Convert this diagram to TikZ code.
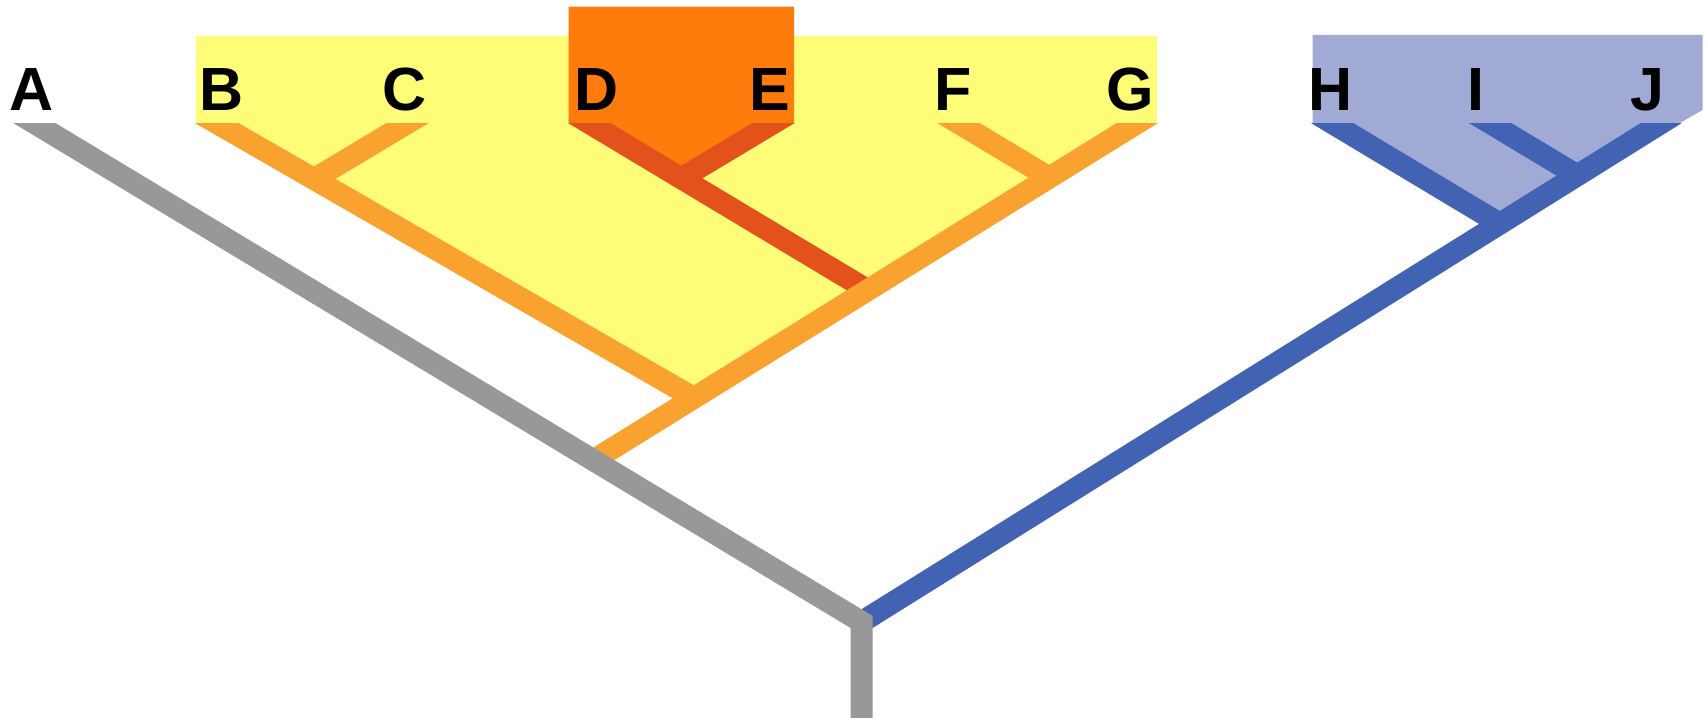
\documentclass[tikz,border=0pt]{standalone}
\usepackage{fontspec}
\setmainfont{Liberation Sans}
\usetikzlibrary{calc}
\definecolor{cgray}{RGB}{152,152,152}
\definecolor{corange}{RGB}{250,162,48}
\definecolor{cyellow}{RGB}{255,252,120}
\definecolor{cbox}{RGB}{255,123,12}
\definecolor{cdark}{RGB}{228,82,28}
\definecolor{cblue}{RGB}{66,98,180}
\definecolor{clblue}{RGB}{160,170,212}
\begin{document}
\begin{tikzpicture}[x=1pt,y=-1pt,
  br/.style={line width=20pt, line cap=butt, line join=miter},
  lab/.style={font=\fontsize{56}{62}\selectfont\bfseries, anchor=base, inner sep=0pt}]
\useasboundingbox (0,0) rectangle (1568,662);
% tips
\coordinate (tA) at (31.6,113);
\coordinate (tB) at (199,113);
\coordinate (tC) at (374,113);
\coordinate (tD) at (541,113);
\coordinate (tE) at (710,113);
\coordinate (tF) at (880,113);
\coordinate (tG) at (1044,113);
\coordinate (tH) at (1223,113);
\coordinate (tI) at (1368,113);
\coordinate (tJ) at (1525,113);
% root
\coordinate (R) at (791,571);
\coordinate (S) at (791,659);
% direction helpers
\coordinate (gG) at (544,423);
\coordinate (bB) at (699,401);
\coordinate (cC) at (274,173);
\coordinate (dD) at (641,173);
\coordinate (eE) at (610,173);
\coordinate (fF) at (980,173);
\coordinate (hH) at (1323,173);
\coordinate (iI) at (1468,173);
% junctions
\coordinate (O1) at (intersection of tA--R and tG--gG);
\coordinate (BG) at (intersection of tB--bB and tG--gG);
\coordinate (BC) at (intersection of tC--cC and tB--bB);
\coordinate (DJ) at (intersection of tD--dD and tG--gG);
\coordinate (DE) at (intersection of tE--eE and tD--dD);
\coordinate (FG) at (intersection of tF--fF and tG--gG);
\coordinate (HJ) at (intersection of tH--hH and R--tJ);
\coordinate (IJ) at (intersection of tI--iI and R--tJ);
% fills
\fill[cyellow] (180,33) -- (1062,33) -- (1062,113) -- (BG) -- (180,113) -- cycle;
\fill[cbox] (522,6) -- (729,6) -- (729,113) -- (DE) -- (522,113) -- cycle;
\fill[clblue] (1205,32) -- (1563,32) -- (1563,101) -- (1542,113) -- (HJ) -- (1205,113) -- cycle;
% branches
\begin{scope}
\clip (0,113) rectangle (1568,662);
\draw[br, cdark] ($(tD)!-30pt!(DJ)$) -- (DJ);
\draw[br, cdark] ($(tE)!-30pt!(DE)$) -- (DE);
\draw[br, corange] ($(tC)!-30pt!(BC)$) -- (BC);
\draw[br, corange] ($(tB)!-30pt!(BG)$) -- (BG);
\draw[br, corange] ($(tF)!-30pt!(FG)$) -- (FG);
\draw[br, corange] ($(tG)!-30pt!(O1)$) -- (O1);
\draw[br, cblue] ($(tH)!-30pt!(HJ)$) -- (HJ);
\draw[br, cblue] ($(tI)!-30pt!(IJ)$) -- (IJ);
\draw[br, cblue] (R) -- ($(tJ)!-30pt!(R)$);
\draw[br, cgray] ($(tA)!-30pt!(R)$) -- (R) -- (S);
\end{scope}
% labels
\node[lab] (lA) at (29,101) {A};
\node[lab] (lB) at (203,101) {B};
\node[lab] (lC) at (371,101) {C};
\node[lab] (lD) at (548,101) {D};
\node[lab] (lE) at (707,101) {E};
\node[lab] (lF) at (875,101) {F};
\node[lab] (lG) at (1038,101) {G};
\node[lab] (lH) at (1221,101) {H};
\node[lab] (lI) at (1355,101) {I};
\node[lab] (lJ) at (1512,101) {J};
\end{tikzpicture}
\end{document}
